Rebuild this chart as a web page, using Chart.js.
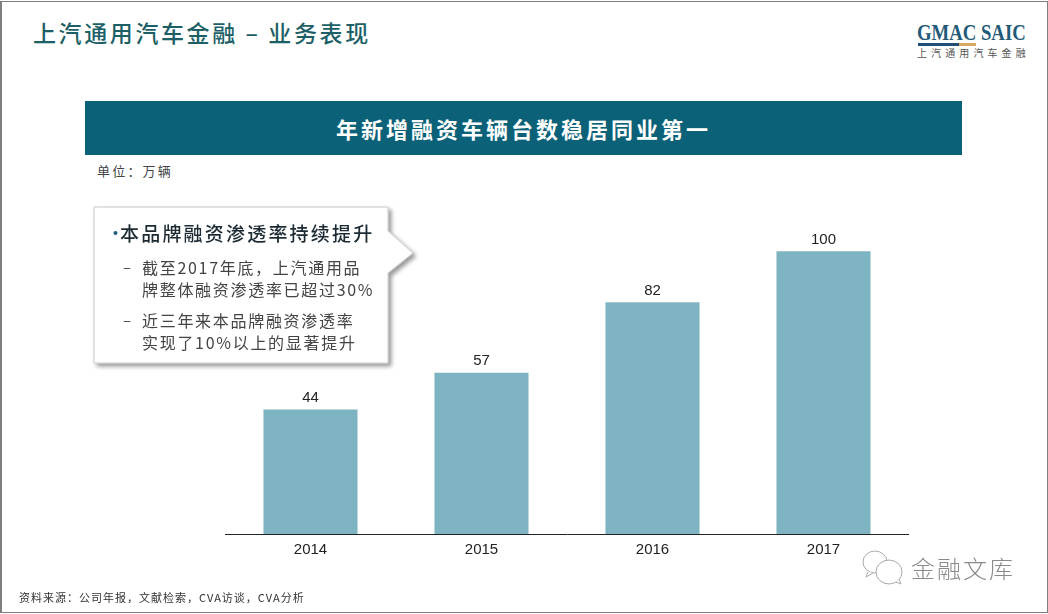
<!DOCTYPE html>
<html lang="zh">
<head>
<meta charset="utf-8">
<title>年新增融资车辆台数</title>
<script src="https://cdn.jsdelivr.net/npm/chart.js@4"></script>
<style>
    html, body { margin: 0; padding: 0; background: #fff; }
    #page { position: relative; width: 1048px; height: 614px; overflow: hidden; background: #fff;
            font-family: "Noto Sans CJK SC", "Noto Sans", sans-serif; }
    #frame { position: absolute; left: 0; top: 1px; width: 1045px; height: 610px; border: 1px solid #7f7f7f; border-left-width: 2px; }
    #page div.t { position: absolute; white-space: nowrap; }
    #chartWrap { position: absolute; left: 225px; top: 223px; width: 684px; height: 343px; }
    svg { position: absolute; left: 0; top: 0; }
</style>
</head>
<body>
<div id="page">
    <div id="frame"></div>

    <div class="t" style="left:33px;top:17px;font-size:23px;line-height:30px;font-weight:500;color:#1d5f66;letter-spacing:2.6px;">上汽通用汽车金融 – 业务表现</div>

    <!-- logo -->
    <div class="t" style="left:917px;top:19px;font-family:'Liberation Serif';font-weight:bold;font-size:24px;line-height:26px;color:#1f5a78;transform:scaleX(0.78);transform-origin:left top;">GMAC SAIC</div>
    <div class="t" style="left:918px;top:43px;width:41px;height:3px;background:#1f4e79;"></div>
    <div class="t" style="left:959px;top:43px;width:17px;height:3px;background:#d9a860;"></div>
    <div class="t" style="left:917px;top:46px;font-size:10px;line-height:13px;color:#555;letter-spacing:4.1px;">上汽通用汽车金融</div>

    <!-- banner -->
    <div class="t" style="left:85px;top:101px;width:877px;height:54px;background:#0b6178;color:#fff;text-align:center;font-size:22px;line-height:54px;font-weight:700;letter-spacing:3px;">年新增融资车辆台数稳居同业第一</div>
    <div class="t" style="left:97px;top:162px;font-size:13px;line-height:18px;color:#444;letter-spacing:2.2px;">单位：万辆</div>

    <div id="chartWrap"><canvas id="volumeChart"></canvas></div>

    <!-- callout -->
    <svg width="1048" height="614">
        <defs>
            <filter id="sh" x="-10%" y="-10%" width="125%" height="125%">
                <feDropShadow dx="3" dy="3" stdDeviation="2" flood-color="#000" flood-opacity="0.4"/>
            </filter>
        </defs>
        <polygon points="94,207 388,207 388,231 413,253 388,273 388,363 94,363" fill="#fff" stroke="#c8c8c8" stroke-width="1" filter="url(#sh)"/>
        <!-- wechat watermark -->
        <g fill="#fff" stroke="#aaa" stroke-width="1">
            <ellipse cx="875" cy="562" rx="12" ry="11"/>
            <path d="M868 572 L866 577 L873 573" />
            <ellipse cx="889" cy="572" rx="13" ry="12"/>
            <path d="M896 582 L901 584 L899 579" />
        </g>
    </svg>
    <div class="t" style="left:106px;top:220px;font-size:19px;line-height:26px;color:#1f5f7a;">•</div>
    <div class="t" style="left:120px;top:220px;font-size:19px;line-height:26px;font-weight:500;color:#1c2b33;letter-spacing:2.2px;">本品牌融资渗透率持续提升</div>
    <div class="t" style="left:123px;top:256px;font-size:15px;line-height:22px;color:#444;">–</div>
    <div class="t" style="left:142px;top:256px;font-size:16px;line-height:22px;color:#444;letter-spacing:1.7px;">截至2017年底，上汽通用品<br>牌整体融资渗透率已超过30%</div>
    <div class="t" style="left:123px;top:309px;font-size:15px;line-height:22px;color:#444;">–</div>
    <div class="t" style="left:142px;top:309px;font-size:16px;line-height:22px;color:#444;letter-spacing:1.7px;">近三年来本品牌融资渗透率<br>实现了10%以上的显著提升</div>

    <div class="t" style="left:19px;top:588px;font-size:11px;line-height:18px;color:#333;letter-spacing:1px;">资料来源：公司年报，文献检索，CVA访谈，CVA分析</div>
    <div class="t" style="left:911px;top:552px;font-size:24px;line-height:32px;color:#8a8a8a;font-weight:300;letter-spacing:2px;">金融文库</div>
</div>

<script>
// Chart data
const categories = ['2014', '2015', '2016', '2017'];
const volumes = [44, 57, 82, 100];

// Value labels above the bars
const barLabels = {
    id: 'barLabels',
    afterDatasetsDraw(chart) {
        const ctx = chart.ctx;
        const meta = chart.getDatasetMeta(0);
        ctx.save();
        ctx.font = '15px "Liberation Sans"';
        ctx.fillStyle = '#222';
        ctx.textAlign = 'center';
        ctx.textBaseline = 'bottom';
        meta.data.forEach(function(bar, i) {
            ctx.fillText(volumes[i], bar.x, bar.y - 4);
        });
        ctx.restore();
    }
};

new Chart(document.getElementById('volumeChart').getContext('2d'), {
    type: 'bar',
    data: {
        labels: categories,
        datasets: [{
            label: '年新增融资车辆台数',
            data: volumes,
            backgroundColor: '#7eb4c1',
            categoryPercentage: 1,
            barPercentage: 0.55
        }]
    },
    options: {
        responsive: true,
        maintainAspectRatio: false,
        animation: false,
        layout: { padding: 0 },
        plugins: {
            legend: { display: false },
            tooltip: { enabled: false }
        },
        scales: {
            x: {
                grid: { display: false, drawTicks: false },
                border: { color: '#222', width: 1 },
                ticks: {
                    color: '#222',
                    padding: 7,
                    font: { family: '"Liberation Sans"', size: 15 }
                }
            },
            y: {
                display: false,
                min: 0,
                max: 110
            }
        }
    },
    plugins: [barLabels]
});
</script>
</body>
</html>
